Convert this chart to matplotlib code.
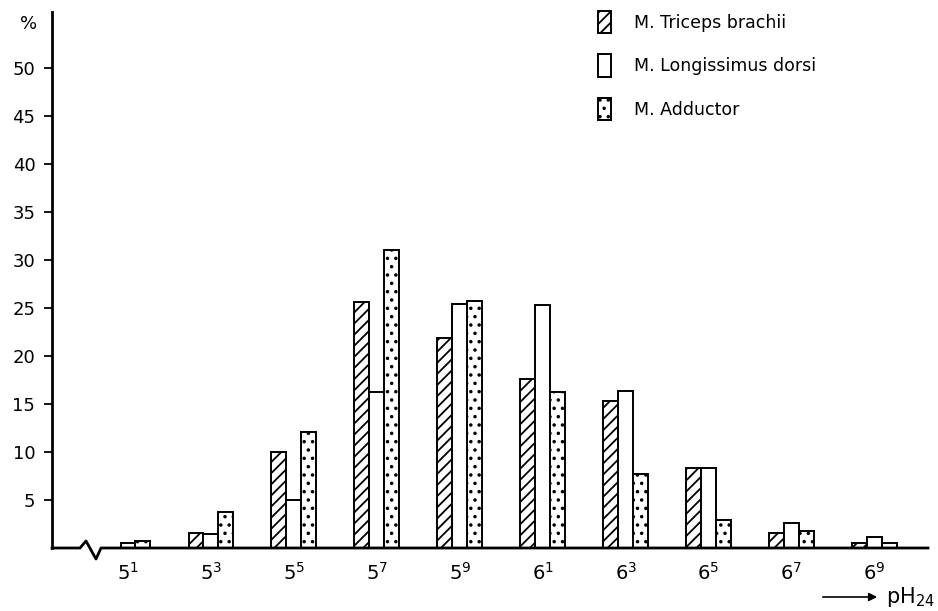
import matplotlib
matplotlib.use('Agg')
import matplotlib.pyplot as plt
import numpy as np

ph_labels = ['$5^1$', '$5^3$', '$5^5$', '$5^7$', '$5^9$',
             '$6^1$', '$6^3$', '$6^5$', '$6^7$', '$6^9$']
triceps = [0.0, 1.6, 10.0, 25.6, 21.9, 17.6, 15.3, 8.3, 1.6, 0.5]
longissimus = [0.5, 1.5, 5.0, 16.2, 25.4, 25.3, 16.3, 8.3, 2.6, 1.1]
adductor = [0.75, 3.7, 12.1, 31.0, 25.7, 16.2, 7.7, 2.9, 1.8, 0.55]

plt.rcParams['hatch.linewidth'] = 1.3

fig = plt.figure(figsize=(9.38, 6.11), dpi=100)
ax = fig.add_axes([52 / 938, 63 / 611, 876 / 938, 536 / 611])

x = np.arange(len(ph_labels))
w = 0.18
ax.bar(x - w, triceps, w, color='white', edgecolor='black', linewidth=1.4,
       hatch='///', label='M. Triceps brachii')
ax.bar(x, longissimus, w, color='white', edgecolor='black', linewidth=1.4,
       label='M. Longissimus dorsi')
ax.bar(x + w, adductor, w, color='white', edgecolor='black', linewidth=1.4,
       hatch='..', label='M. Adductor')

ax.set_xlim(-0.916, 9.646)
ax.set_ylim(0, 55.8)
ax.set_yticks(range(5, 51, 5))
ax.set_xticks(x)
ax.set_xticklabels(ph_labels, fontsize=14)
ax.tick_params(axis='x', length=0, pad=10)
ax.tick_params(axis='y', length=6, width=1.3, labelsize=13, pad=6)

for s in ['top', 'right', 'bottom']:
    ax.spines[s].set_visible(False)
ax.spines['left'].set_linewidth(2)

# x axis with break mark
bx = np.array([52, 80, 86, 96, 101, 928])
by = np.array([548, 548, 541, 559, 548, 548])
ax.plot((bx - 52) / 876, (548 - by) / 536, color='black', lw=2,
        transform=ax.transAxes, clip_on=False)

fig.text(20 / 938, 1 - 24 / 611, '%', fontsize=13, ha='left', va='center')

ax.annotate('', xy=(880 / 938, 1 - 597 / 611), xytext=(820 / 938, 1 - 597 / 611),
            xycoords='figure fraction', textcoords='figure fraction',
            arrowprops=dict(arrowstyle='-|>', color='black', lw=1.2, mutation_scale=12))
fig.text(886 / 938, 1 - 597 / 611, 'pH$_{24}$', fontsize=15, ha='left', va='center')

ax.legend(loc='upper left', bbox_to_anchor=(598 / 938, 1 - 11 / 611),
          bbox_transform=fig.transFigure, frameon=False, fontsize=12.5,
          handlelength=0.75, handleheight=1.6, labelspacing=1.22,
          handletextpad=1.35, borderpad=0, borderaxespad=0)

fig.savefig('out.png', dpi=100)
